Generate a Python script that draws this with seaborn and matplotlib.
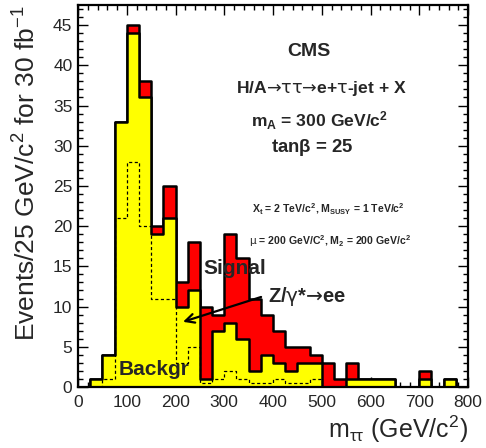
import numpy as np
import pandas as pd
import matplotlib
matplotlib.use("Agg")
import matplotlib.pyplot as plt
import seaborn as sns

# ---- data (bins of 25 GeV/c^2 from 0 to 800) ----
bin_low = [0, 25, 50, 75, 100, 125, 150, 175, 200, 225, 250, 275, 300, 325, 350, 375,
           400, 425, 450, 475, 500, 525, 550, 575, 600, 625, 650, 675, 700, 725, 750, 775]
backgr = [0, 1, 4, 33, 44, 36, 19, 21, 10, 12, 1, 7, 8, 6, 2, 4,
          3, 2, 3, 3, 0, 0, 1, 1, 1, 1, 0, 0, 1, 0, 1, 0]
signal = [0, 0, 0, 0, 1, 2, 1, 4, 3, 6, 9, 2, 11, 10, 9, 5,
          4, 3, 2, 1, 3, 1, 2, 0, 0, 0, 0, 0, 1, 0, 0, 0]
zee = [0, 0, 1, 21, 28, 20, 11, 11, 3, 5, 0.5, 1, 2, 1, 0.5, 0.5,
       1, 0.5, 0.5, 1, 0, 0, 0, 0, 0, 0, 0, 0, 0, 0, 0, 0]
bin_width = 25
x_ticks = [0, 100, 200, 300, 400, 500, 600, 700, 800]
y_ticks = [0, 5, 10, 15, 20, 25, 30, 35, 40, 45]

edges = list(bin_low) + [bin_low[-1] + bin_width]
df = pd.DataFrame({
    "center": np.array(bin_low) + bin_width / 2,
    "backgr": backgr,
    "total": np.array(backgr) + np.array(signal),
    "zee": zee,
})

sns.set_style("ticks")
plt.rcParams["font.family"] = ["Liberation Sans", "DejaVu Sans"]
plt.rcParams["mathtext.fontset"] = "custom"
plt.rcParams["mathtext.rm"] = "Liberation Sans"
plt.rcParams["mathtext.bf"] = "Liberation Sans:bold"
plt.rcParams["mathtext.it"] = "Liberation Sans:italic"
plt.rcParams["mathtext.sf"] = "DejaVu Sans"

W, H = 486, 448
fig = plt.figure(figsize=(W / 100, H / 100), dpi=100)
ax = fig.add_axes([78 / W, (H - 387) / H, 390 / W, 382 / H])

# total (signal + background) in red, background in yellow on top
sns.histplot(data=df, x="center", weights="total", bins=edges, element="step",
             fill=True, color="#ff0000", edgecolor="black", linewidth=1.8, alpha=1,
             ax=ax, zorder=2)
sns.histplot(data=df, x="center", weights="backgr", bins=edges, element="step",
             fill=True, color="#ffff00", edgecolor="black", linewidth=1.8, alpha=1,
             ax=ax, zorder=3)
sns.histplot(data=df, x="center", weights="zee", bins=edges, element="step",
             fill=False, color="black", linewidth=0.9, linestyle=(0, (2.5, 2)),
             ax=ax, zorder=4)

ax.set_xlim(0, 800)
ax.set_ylim(0, 47.5)
ax.set_xticks(x_ticks)
ax.set_yticks(y_ticks)
ax.set_xticks(np.arange(0, 801, 20), minor=True)
ax.set_yticks(np.arange(0, 48, 1), minor=True)
ax.tick_params(which="both", direction="in", top=True, right=True, width=1, color="black")
ax.tick_params(which="major", length=7.5, labelsize=12.5, pad=4)
ax.tick_params(which="minor", length=3.8)
ax.tick_params(axis="x", which="major", pad=6)
for s in ax.spines.values():
    s.set_linewidth(1.6)
    s.set_color("black")
    s.set_zorder(10)

ax.set_xlabel(r"m$_{\mathregular{ττ}}$ (GeV/c$^{2}$)", fontsize=18, loc="right")
ax.xaxis.set_label_coords(1.0, -0.07)
ax.set_ylabel(r"Events/25 GeV/c$^{2}$ for 30 fb$^{-1}$", fontsize=19, loc="top")
ax.yaxis.set_label_coords(-0.095, 1.0)

def ftext(x, y, s, size, ha="center", **kw):
    fig.text(x / W, 1 - y / H, s, fontsize=size, ha=ha, va="center",
             fontweight="bold", **kw)

ftext(309, 51, "CMS", 14)
ftext(321, 89, r"H/A$\mathsf{→ττ→}$e+$\mathsf{τ}$-jet + X", 12.6)
ftext(320, 121, r"m$_{\mathbf{A}}$ = 300 GeV/c$^{\mathbf{2}}$", 12.6)
ftext(312, 147, r"tan$\mathbf{β}$ = 25", 13.4)
ftext(328, 209, r"X$_{\mathbf{t}}$ = 2 TeV/c$^{\mathbf{2}}$, M$_{\mathbf{SUSY}}$ = 1 TeV/c$^{\mathbf{2}}$", 7.6)
ftext(330, 241, r"$\mathsf{μ}$ = 200 GeV/C$^{\mathbf{2}}$, M$_{\mathbf{2}}$ = 200 GeV/c$^{\mathbf{2}}$", 7.6)
ftext(235, 268, "Signal", 15)
ftext(268, 296, r"Z/$\mathsf{γ}$*$\mathsf{→}$ee", 14.5, ha="left")
ftext(154, 369, "Backgr", 15, zorder=20)

ax.annotate("", xy=(210, 8.0), xytext=(381, 11.3), xycoords="data",
            arrowprops=dict(arrowstyle="->", lw=1.6, color="black", mutation_scale=16),
            zorder=20)

fig.savefig("out.png", dpi=100)
